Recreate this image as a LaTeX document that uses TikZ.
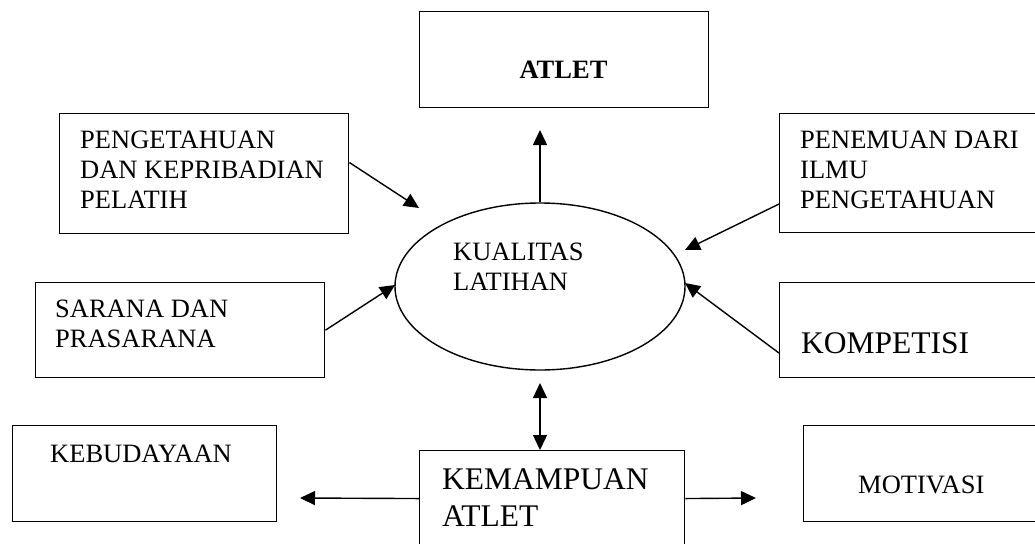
\documentclass[tikz,border=0pt]{standalone}
\usepackage{fontspec}
\setmainfont{Liberation Serif}
\usetikzlibrary{arrows.meta,calc,shapes.geometric}
\tikzset{
  box/.style={draw, line width=1.4pt, rectangle, inner sep=0pt, anchor=north west},
  txt/.style={inner sep=0pt, anchor=base west, align=left, font=\fontsize{26.5}{30}\selectfont},
  bigtxt/.style={inner sep=0pt, anchor=base west, align=left, font=\fontsize{31.5}{37}\selectfont},
  arr/.style={line width=1.4pt, -{Triangle[length=15pt,width=14pt]}},
  dbl/.style={line width=1.4pt, {Triangle[length=15pt,width=14pt]}-{Triangle[length=15pt,width=14pt]}},
}
\begin{document}
\begin{tikzpicture}[x=1pt,y=-1pt]
\useasboundingbox (0,0) rectangle (1035,543);
\clip (0,0) rectangle (1035,543);
% boxes
\node[box, minimum width=289pt, minimum height=96pt] (atlet) at (419,11) {};
\node[box, minimum width=289pt, minimum height=120pt] (peng) at (59,113) {};
\node[box, minimum width=270pt, minimum height=119pt] (pen) at (779,113) {};
\node[box, minimum width=289pt, minimum height=95pt] (sar) at (35,282) {};
\node[box, minimum width=270pt, minimum height=95pt] (komp) at (779,282) {};
\node[box, minimum width=264pt, minimum height=96pt] (keb) at (12,425) {};
\node[box, minimum width=265pt, minimum height=120pt] (kem) at (419,450) {};
\node[box, minimum width=250pt, minimum height=96pt] (mot) at (803,425) {};
\node[draw, ellipse, line width=1.4pt, inner sep=0pt, minimum width=290pt, minimum height=167pt] (kual) at (540,286.5) {};
% texts (base anchor = baseline of the last line)
\node[inner sep=0pt, anchor=base, font={\fontsize{26.5}{30}\selectfont\bfseries}] (tatlet) at (563.5,78) {ATLET};
\node[txt] (tpeng) at (80,208) {PENGETAHUAN\\DAN KEPRIBADIAN\\PELATIH};
\node[txt] (tpen) at (800,208) {PENEMUAN DARI\\ILMU\\PENGETAHUAN};
\node[txt] (tkual) at (453,290) {KUALITAS\\LATIHAN};
\node[txt] (tsar) at (55,347) {SARANA DAN\\PRASARANA};
\node[bigtxt] (tkomp) at (801,353) {KOMPETISI};
\node[txt] (tkeb) at (50,462) {KEBUDAYAAN};
\node[bigtxt] (tkem) at (442,526) {KEMAMPUAN\\ATLET};
\node[txt] (tmot) at (858,493) {MOTIVASI};
% arrow tips
\coordinate (t1) at (540,130);
\coordinate (t2) at (419,208);
\coordinate (t3) at (685,250);
\coordinate (t4) at (395,285);
\coordinate (t5) at (685,283);
\coordinate (t6) at (300,498);
\coordinate (t7) at (756,498);
\coordinate (t8) at (540,383);
% connectors
\draw[arr] (kual.north) -- (t1);
\draw[arr] ($(peng.north east)!0.408!(peng.south east)$) -- (t2);
\draw[arr] ($(pen.north west)!0.756!(pen.south west)$) -- (t3);
\draw[arr] (sar.east) -- (t4);
\draw[arr] ($(komp.north west)!0.737!(komp.south west)$) -- (t5);
\draw[arr] ($(kem.north west)!0.4!(kem.south west)$) -- (t6);
\draw[arr] ($(kem.north east)!0.4!(kem.south east)$) -- (t7);
\draw[dbl] (t8) -- (t8 |- kem.north);
\end{tikzpicture}
\end{document}
